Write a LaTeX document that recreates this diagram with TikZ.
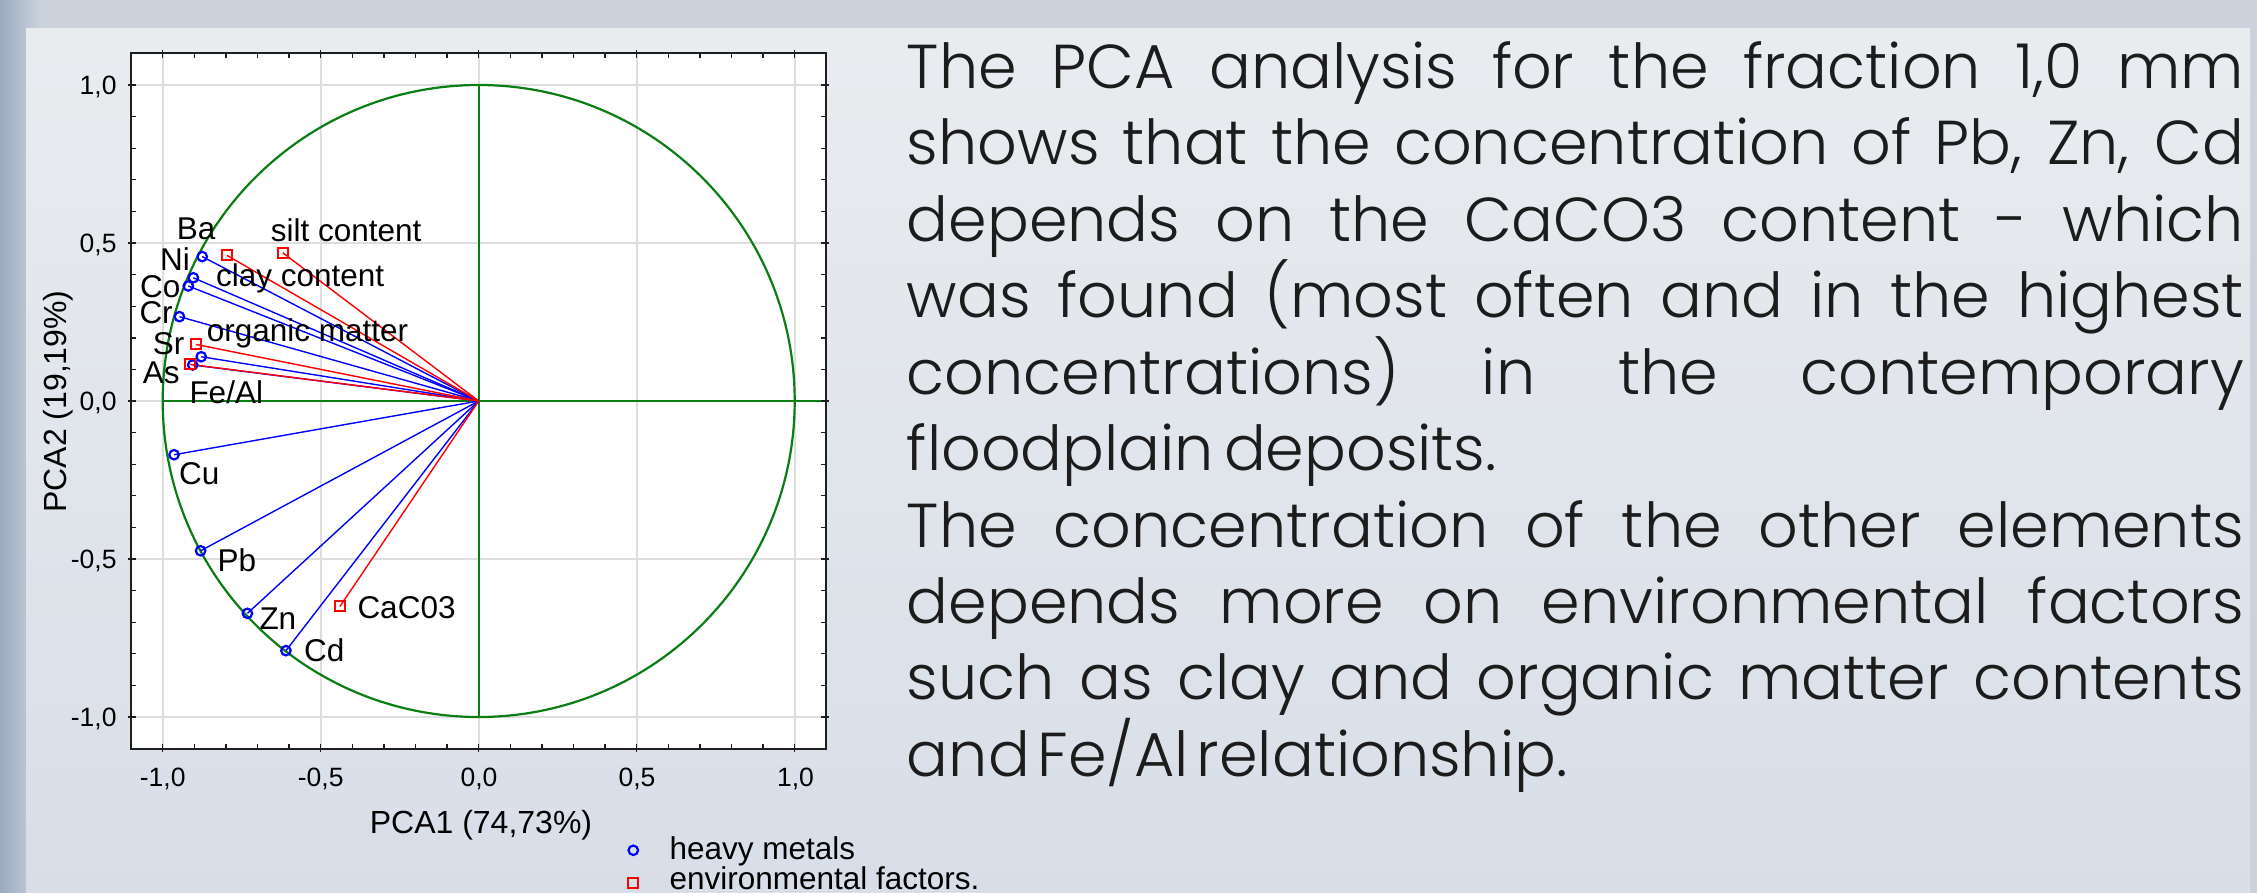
\documentclass[tikz,border=0pt]{standalone}
\usepackage{fontspec}
\newfontfamily\lsans{Liberation Sans}
\newfontfamily\poppins{Poppins Light}
\newcommand\mylabfont{\lsans\fontsize{31.5pt}{36pt}\selectfont}
\newcommand\mytickfont{\lsans\fontsize{26.5pt}{30pt}\selectfont}
\newcommand\mytitlefont{\lsans\fontsize{32pt}{36pt}\selectfont}
\newcommand\myparafont{\poppins\fontsize{62pt}{76pt}\selectfont}
\definecolor{pcablue}{RGB}{0,0,255}
\definecolor{pcared}{RGB}{255,0,0}
\definecolor{pcagreen}{RGB}{10,125,20}
\definecolor{gridgrey}{RGB}{222,222,222}
\definecolor{framegrey}{RGB}{30,30,30}
\definecolor{bgc}{RGB}{203,210,220}
\definecolor{bgdark}{RGB}{155,172,193}
\definecolor{paneltop}{RGB}{233,236,239}
\definecolor{panelbot}{RGB}{216,222,232}
\definecolor{paratext}{RGB}{28,28,28}
\tikzset{
  metal/.style={circle, draw=pcablue, line width=2.2pt, minimum size=9.5pt, inner sep=0pt},
  envf/.style={rectangle, draw=pcared, line width=2pt, minimum size=10pt, inner sep=0pt},
  bl/.style={draw=pcablue, line width=1.4pt},
  rl/.style={draw=pcared, line width=1.4pt},
  lab/.style={font=\mylabfont, anchor=base west, inner sep=0pt, text=black},
  ytick/.style={font=\mytickfont, anchor=base east, inner sep=0pt, text=black},
  xtick/.style={font=\mytickfont, anchor=base, inner sep=0pt, text=black},
  axtitle/.style={font=\mytitlefont, anchor=base, inner sep=0pt, text=black},
  para/.style={font=\myparafont, anchor=base west, inner sep=0pt, text=paratext},
  gridline/.style={draw=gridgrey, line width=1.6pt},
  greenline/.style={draw=pcagreen, line width=1.6pt},
  greencirc/.style={draw=pcagreen, line width=2.2pt},
  framel/.style={draw=framegrey, line width=2pt},
  tickl/.style={draw=framegrey, line width=1.4pt}
}
\begin{document}
\begin{tikzpicture}[x=1pt,y=-1pt]
\useasboundingbox (0,0) rectangle (2257,893);
% background
\fill[bgc] (0,0) rectangle (2257,893);
\shade[left color=bgdark, right color=bgc] (0,0) rectangle (40,893);
\shade[top color=paneltop, bottom color=panelbot] (26,29) rectangle (2250,893);
\fill[white] (130.7,52.7) rectangle (826.7,748);

\begin{scope}[shift={(478.7,401)}, x={(316pt,0pt)}, y={(0pt,316pt)}]
  % grid
  \foreach \g in {-1,-0.5,0,0.5,1} {
    \draw[gridline] (\g,-1.1) -- (\g,1.1);
    \draw[gridline] (-1.1,\g) -- (1.1,\g);
  }
  % green cross and unit circle
  \draw[greenline] (0,-1) -- (0,1);
  \draw[greenline] (-1,0) -- (1.1,0);
  \draw[greencirc] (0,0) circle[radius=316pt];
  % frame and ticks
  \draw[framel] (-1.1,-1.1) rectangle (1.1,1.1);
  \foreach \i in {-10,...,10} {
    \pgfmathsetmacro\tt{\i/10}
    \draw[tickl] (\tt,1.1) -- ++(0,-0.016);
    \draw[tickl] (\tt,-1.1) -- ++(0,0.016);
    \draw[tickl] (-1.1,\tt) -- ++(0.016,0);
    \draw[tickl] (1.1,\tt) -- ++(-0.016,0);
  }
  \foreach \tt in {-1,-0.5,0,0.5,1} {
    \draw[tickl] (\tt,1.1) -- ++(0,0.01);
    \draw[tickl] (\tt,-1.1) -- ++(0,-0.01);
    \draw[tickl] (-1.1,\tt) -- ++(-0.01,0);
    \draw[tickl] (1.1,\tt) -- ++(0.01,0);
  }
  % variables
  \coordinate (O) at (0,0);
  \coordinate (pBa) at (-0.875,0.457);
  \coordinate (pNi) at (-0.903,0.390);
  \coordinate (pCo) at (-0.919,0.364);
  \coordinate (pCr) at (-0.947,0.267);
  \coordinate (pSr) at (-0.878,0.140);
  \coordinate (pAs) at (-0.905,0.114);
  \coordinate (pCu) at (-0.964,-0.170);
  \coordinate (pPb) at (-0.880,-0.474);
  \coordinate (pZn) at (-0.732,-0.672);
  \coordinate (pCd) at (-0.610,-0.790);
  \coordinate (pSilt) at (-0.620,0.469);
  \coordinate (pClay) at (-0.797,0.461);
  \coordinate (pOrg) at (-0.895,0.179);
  \coordinate (pFeAl) at (-0.914,0.116);
  \coordinate (pCaC) at (-0.439,-0.650);
  \foreach \p in {Ba,Ni,Co,Cr,Sr,As,Cu,Pb,Zn,Cd} { \draw[bl] (O) -- (p\p); }
  \foreach \p in {Silt,Clay,Org,FeAl,CaC} { \draw[rl] (O) -- (p\p); }
  \foreach \p in {Ba,Ni,Co,Cr,Sr,As,Cu,Pb,Zn,Cd} { \node[metal] (m\p) at (p\p) {}; }
  \foreach \p in {Silt,Clay,Org,FeAl,CaC} { \node[envf] (m\p) at (p\p) {}; }
\end{scope}

% point labels
\node[lab] (tBa) at (176.7,240) {Ba};
\node[lab] (tNi) at (160,271) {Ni};
\node[lab] (tCo) at (140,297.5) {Co};
\node[lab] (tCr) at (139.3,323.8) {Cr};
\node[lab] (tSr) at (152.7,354.5) {Sr};
\node[lab] (tAs) at (142.7,383) {As};
\node[lab] (tFeAl) at (189.3,403.3) {Fe/Al};
\node[lab] (tSilt) at (270.7,241.7) {silt content};
\node[lab] (tClay) at (216,286.7) {clay content};
\node[lab] (tOrg) at (206.7,341.7) {organic matter};
\node[lab] (tCu) at (179,484.7) {Cu};
\node[lab] (tPb) at (217.3,571.3) {Pb};
\node[lab] (tZn) at (259.3,629.7) {Zn};
\node[lab] (tCd) at (304,661.3) {Cd};
\node[lab] (tCaC) at (357.3,618) {CaC03};

% tick labels
\node[ytick] (y1) at (116.7,94.5) {1,0};
\node[ytick] (y2) at (116.7,252.2) {0,5};
\node[ytick] (y3) at (116.7,410.5) {0,0};
\node[ytick] (y4) at (116.7,568.5) {-0,5};
\node[ytick] (y5) at (116.7,726.5) {-1,0};
\node[xtick] (x1) at (162.7,786.3) {-1,0};
\node[xtick] (x2) at (320.7,786.3) {-0,5};
\node[xtick] (x3) at (479,786.3) {0,0};
\node[xtick] (x4) at (637,786.3) {0,5};
\node[xtick] (x5) at (795.5,786.3) {1,0};
\node[axtitle] (xt) at (481,833) {PCA1 (74,73\%)};
\node[axtitle, rotate=90] (yt) at (66,401.5) {PCA2 (19,19\%)};

% legend
\node[metal] (legM) at (633.3,850.3) {};
\node[envf] (legE) at (633.3,882.5) {};
\node[lab] (legMt) at (669.3,859.7) {heavy metals};
\node[lab] (legEt) at (669.3,889) {environmental factors.};

% paragraph
\node[para] (p1) at (906.7,88.3) {\makebox[1337pt][s]{The PCA analysis for the fraction 1,0 mm}};
\node[para] (p2) at (906.7,164.75) {\makebox[1337pt][s]{shows that the concentration of Pb, Zn, Cd}};
\node[para] (p3) at (906.7,241.2) {\makebox[1337pt][s]{depends on the CaCO3 content - which}};
\node[para] (p4) at (906.7,317.65) {\makebox[1337pt][s]{was found (most often and in the highest}};
\node[para] (p5) at (906.7,394.1) {\makebox[1337pt][s]{concentrations) in the contemporary}};
\node[para] (p6) at (906.7,470.55) {floodplain\hspace{10pt}deposits.};
\node[para] (p7) at (906.7,547) {\makebox[1337pt][s]{The concentration of the other elements}};
\node[para] (p8) at (906.7,623.45) {\makebox[1337pt][s]{depends more on environmental factors}};
\node[para] (p9) at (906.7,699.9) {\makebox[1337pt][s]{such as clay and organic matter contents}};
\node[para] (p10) at (906.7,776.35) {and\hspace{8pt}Fe/Al\hspace{8pt}relationship.};
\end{tikzpicture}
\end{document}
